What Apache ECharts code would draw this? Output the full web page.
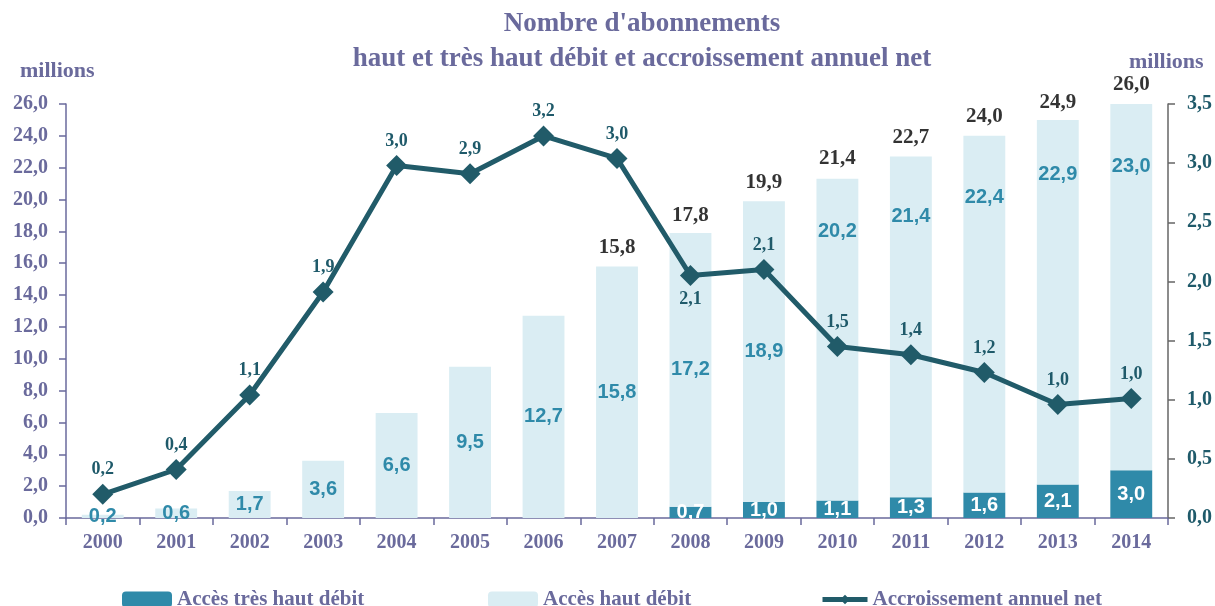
<!DOCTYPE html>
<html>
<head>
<meta charset="utf-8">
<script src="https://cdn.jsdelivr.net/npm/echarts@6/dist/echarts.min.js"></script>
<style>
  html, body { margin: 0; padding: 0; background: #fff; }
  #chart { width: 1215px; height: 606px; }
</style>
</head>
<body>
<div id="chart"></div>
<script>
// data
var years = ["2000", "2001", "2002", "2003", "2004", "2005", "2006", "2007",
  "2008", "2009", "2010", "2011", "2012", "2013", "2014"];
var tresHautDebit = [0, 0, 0, 0, 0, 0, 0, 0, 0.7, 1.0, 1.1, 1.3, 1.6, 2.1, 3.0];
var hautDebit = [0.2, 0.6, 1.7, 3.6, 6.6, 9.5, 12.7, 15.8, 17.2, 18.9, 20.2, 21.4, 22.4, 22.9, 23.0];
var totals = [null, null, null, null, null, null, null, 15.8, 17.8, 19.9, 21.4, 22.7, 24.0, 24.9, 26.0];
var accroissement = [0.2, 0.41, 1.04, 1.91, 2.98, 2.91, 3.23, 3.04, 2.05, 2.10, 1.45, 1.38, 1.23, 0.96, 1.01];
var accroissementLabels = ["0,2", "0,4", "1,1", "1,9", "3,0", "2,9", "3,2", "3,0",
  "2,1", "2,1", "1,5", "1,4", "1,2", "1,0", "1,0"];

// label nudges (style only)
var hautLabelDy = [0, 0, 0, 0, 0, 0, 0, 0, 0, 0, -108, -110, -117, -128, -121];

var purple = "#6a6a9c";
var teal = "#215b69";
var serif = "'Liberation Serif', 'DejaVu Serif', serif";
var sans = "'Liberation Sans', Arial, sans-serif";

function comma(v) {
  return v.toFixed(1).replace(".", ",");
}

var chart = echarts.init(document.getElementById("chart"));

var legendText = { fontFamily: serif, fontSize: 21, fontWeight: "bold", color: purple };

var option = {
  animation: false,
  backgroundColor: "#fff",
  title: {
    text: "Nombre d'abonnements\nhaut et très haut débit et accroissement annuel net",
    left: 637,
    top: 2,
    textAlign: "center",
    textStyle: {
      fontFamily: serif,
      fontSize: 27,
      fontWeight: "bold",
      color: purple,
      lineHeight: 35
    }
  },
  graphic: [
    {
      type: "text", left: 20, top: 60,
      style: { text: "millions", fill: purple, font: "bold 22px " + serif }
    },
    {
      type: "text", left: 1129, top: 51,
      style: { text: "millions", fill: purple, font: "bold 22px " + serif }
    }
  ],
  legend: [
    {
      data: ["Accès très haut débit"], left: 117, top: 584,
      itemWidth: 50, itemHeight: 16, textStyle: legendText
    },
    {
      data: ["Accès haut débit"], left: 483, top: 584,
      itemWidth: 50, itemHeight: 16, textStyle: legendText
    },
    {
      data: ["Accroissement annuel net"], left: 815, top: 584,
      itemWidth: 45, itemHeight: 12, textStyle: legendText,
      lineStyle: { width: 5 }
    }
  ],
  grid: { left: 66, right: 47, top: 104, bottom: 88 },
  xAxis: {
    type: "category",
    data: years,
    axisLine: { lineStyle: { color: purple, width: 1.5 } },
    axisTick: { show: true, length: 7, lineStyle: { color: purple, width: 1.5 } },
    axisLabel: {
      margin: 15,
      fontFamily: serif, fontSize: 20, fontWeight: "bold", color: purple
    }
  },
  yAxis: [
    {
      type: "value",
      min: 0, max: 26, interval: 2,
      axisLine: { show: true, lineStyle: { color: purple, width: 1.5 } },
      axisTick: { show: true, length: 7, lineStyle: { color: purple, width: 1.5 } },
      splitLine: { show: false },
      axisLabel: {
        margin: 18,
        formatter: comma,
        fontFamily: serif, fontSize: 20, fontWeight: "bold", color: purple
      }
    },
    {
      type: "value",
      min: 0, max: 3.5, interval: 0.5,
      axisLine: { show: true, lineStyle: { color: "#666666", width: 1.5 } },
      axisTick: { show: true, length: 7, lineStyle: { color: "#666666", width: 1.5 } },
      splitLine: { show: false },
      axisLabel: {
        margin: 19,
        formatter: comma,
        fontFamily: serif, fontSize: 20, fontWeight: "bold", color: "#1f5a6a"
      }
    }
  ],
  series: [
    {
      name: "Accès très haut débit",
      type: "bar",
      stack: "abo",
      barWidth: "57%",
      itemStyle: { color: "#2f8aa9" },
      data: tresHautDebit.map(function (v) { return v > 0 ? v : null; }),
      label: {
        show: true,
        position: "inside",
        formatter: function (p) { return comma(p.value); },
        fontFamily: sans, fontSize: 20, fontWeight: "bold", color: "#ffffff"
      }
    },
    {
      name: "Accès haut débit",
      type: "bar",
      stack: "abo",
      barWidth: "57%",
      itemStyle: { color: "#daedf3" },
      data: hautDebit.map(function (v, i) {
        return { value: v, label: { offset: [0, hautLabelDy[i]] } };
      }),
      label: {
        show: true,
        position: "inside",
        formatter: function (p) { return comma(p.value); },
        fontFamily: sans, fontSize: 20, fontWeight: "bold", color: "#2f8aa9"
      }
    },
    {
      name: "total",
      type: "scatter",
      symbolSize: 1,
      itemStyle: { color: "rgba(0,0,0,0)" },
      data: totals,
      label: {
        show: true,
        position: "top",
        distance: 8,
        formatter: function (p) { return comma(p.value); },
        fontFamily: serif, fontSize: 21, fontWeight: "bold", color: "#000000"
      },
      z: 5
    },
    {
      name: "Accroissement annuel net",
      type: "line",
      yAxisIndex: 1,
      symbol: "diamond",
      symbolSize: 21,
      lineStyle: { color: teal, width: 5 },
      itemStyle: { color: teal },
      data: accroissement.map(function (v, i) {
        var item = { value: v };
        if (i === 8) item.label = { position: "bottom", distance: 4 };
        return item;
      }),
      label: {
        show: true,
        position: "top",
        distance: 5,
        formatter: function (p) { return accroissementLabels[p.dataIndex]; },
        fontFamily: serif, fontSize: 18, fontWeight: "bold", color: "#1f5a6a"
      },
      z: 6
    }
  ]
};

chart.setOption(option);
</script>
</body>
</html>
